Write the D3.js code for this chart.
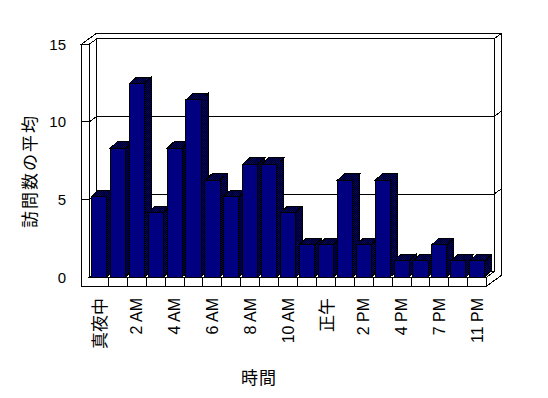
<!DOCTYPE html>
<html>
<head>
<meta charset="utf-8">
<script src="https://cdn.jsdelivr.net/npm/d3@7"></script>
<style>
  body { margin: 0; background: #fff; }
  svg { display: block; }
  text { font-family: "Liberation Sans", Arial, "Noto Sans CJK JP", sans-serif; fill: #000; }
  .cjk { font-family: "Noto Sans CJK JP", sans-serif; }
</style>
</head>
<body>
<svg id="chart" width="548" height="398"></svg>
<script>
const categories = [
  '真夜中', '1 AM', '2 AM', '3 AM', '4 AM', '5 AM', '6 AM', '7 AM', '8 AM', '9 AM', '10 AM', '11 AM',
  '正午', '1 PM', '2 PM', '3 PM', '4 PM', '6 PM', '7 PM', '9 PM', '11 PM',
];
const visits = [5, 8, 12, 4, 8, 11, 6, 5, 7, 7, 4, 2, 2, 6, 2, 6, 1, 1, 2, 1, 1];
const yTicks = [0, 5, 10, 15];
const gridValues = [5, 10];

const svg = d3.select('#chart');

// front plane of the 3d box
const X0 = 89.5;
const X1 = 486.7;
const DX = 7.4; // depth of the plot (oblique)
const DY = -5.3;
const WALL = 7.8; // left wall thickness
const FLOOR = 9; // floor thickness
const BDX = 7; // bar depth
const BDY = -6.5;

const x = d3.scaleBand().domain(categories).range([X0, X1]).paddingInner(0.2).paddingOuter(0.1);
const y = d3.scaleLinear().domain([0, 15]).range([277, 44]);
// bars sit slightly in front of the axis plane, so they read a little taller
const yBar = d3.scaleLinear().domain([0, 15]).range([277, 277 - 15 * 16.1]);

const step = x.step();
const y0 = y(0);
const yTop = y(15);

const defs = svg.append('defs');
const pat = defs.append('pattern')
  .attr('id', 'dither')
  .attr('patternUnits', 'userSpaceOnUse')
  .attr('width', 2)
  .attr('height', 2)
  .attr('shape-rendering', 'crispEdges');
pat.append('rect').attr('width', 2).attr('height', 2).attr('fill', '#000080');
pat.append('rect').attr('width', 1).attr('height', 1).attr('fill', '#000');
pat.append('rect').attr('x', 1).attr('y', 1).attr('width', 1).attr('height', 1).attr('fill', '#000');

const line = d3.line();
const g = svg.append('g')
  .attr('fill', '#fff')
  .attr('stroke', '#000')
  .attr('stroke-width', 1)
  .attr('shape-rendering', 'crispEdges');

function poly(pts) {
  return g.append('path').attr('d', line(pts) + 'Z');
}

// back wall
poly([[X0 + DX, yTop + DY], [X1 + DX, yTop + DY], [X1 + DX, y0 + DY], [X0 + DX, y0 + DY]]);
// left wall inner face
poly([[X0, yTop], [X0 + DX, yTop + DY], [X0 + DX, y0 + DY], [X0, y0]]);
// left wall + floor front face
poly([[X0 - WALL, yTop], [X0, yTop], [X0, y0], [X1, y0], [X1, y0 + FLOOR], [X0 - WALL, y0 + FLOOR]]);
// wall tops
poly([
  [X0 - WALL, yTop], [X0, yTop], [X0 + DX, yTop + DY], [X1 + DX, yTop + DY],
  [X1 + 2 * DX, yTop + 2 * DY], [X0 - WALL + 2 * DX, yTop + 2 * DY],
]);
// right side of back wall and floor
poly([
  [X1, y0], [X1, y0 + FLOOR], [X1 + 2 * DX, y0 + FLOOR + 2 * DY],
  [X1 + 2 * DX, yTop + 2 * DY], [X1 + DX, yTop + DY], [X1 + DX, y0 + DY],
]);
// floor top
poly([[X0, y0], [X1, y0], [X1 + DX, y0 + DY], [X0 + DX, y0 + DY]]);

// gridlines across the walls
gridValues.forEach((v) => {
  const yy = y(v);
  g.append('path').attr('fill', 'none').attr('d', line([
    [X0 - WALL, yy], [X0, yy], [X0 + DX, yy + DY], [X1 + DX, yy + DY], [X1 + 2 * DX, yy + 2 * DY],
  ]));
});

// category dividers on the floor front
d3.range(1, categories.length).forEach((i) => {
  g.append('line')
    .attr('x1', X0 + i * step).attr('x2', X0 + i * step)
    .attr('y1', y0).attr('y2', y0 + FLOOR);
});

// bars, left to right so each front hides the previous side
const bars = g.append('g').selectAll('g').data(visits).join('g');
bars.each(function (v, i) {
  const b = d3.select(this);
  const xl = x(categories[i]);
  const xr = xl + x.bandwidth();
  const yt = yBar(v);
  b.append('path').attr('fill', 'url(#dither)')
    .attr('d', line([[xr, yt], [xr + BDX, yt + BDY], [xr + BDX, y0 + BDY], [xr, y0]]) + 'Z');
  b.append('path').attr('fill', 'url(#dither)')
    .attr('d', line([[xl, yt], [xl + BDX, yt + BDY], [xr + BDX, yt + BDY], [xr, yt]]) + 'Z');
  b.append('rect').attr('fill', '#000080')
    .attr('x', xl).attr('y', yt).attr('width', x.bandwidth()).attr('height', y0 - yt);
});

// value labels
svg.append('g').selectAll('text').data(yTicks).join('text')
  .attr('x', 66)
  .attr('y', (d) => y(d))
  .attr('text-anchor', 'end')
  .attr('dominant-baseline', 'central')
  .attr('font-size', 15)
  .text((d) => d);

// category labels, every second hour
svg.append('g').selectAll('text')
  .data(categories.filter((c, i) => i % 2 === 0))
  .join('text')
  .attr('class', (d) => (/[A-Z]/.test(d) ? null : 'cjk'))
  .attr('transform', (d) => `translate(${X0 + (categories.indexOf(d) + 0.5) * step},298) rotate(-90)`)
  .attr('text-anchor', 'end')
  .attr('dominant-baseline', 'central')
  .attr('font-size', (d) => (/[A-Z]/.test(d) ? 16 : 17))
  .text((d) => d);

svg.append('text')
  .attr('class', 'cjk')
  .attr('transform', 'translate(28,171) rotate(-90)')
  .attr('text-anchor', 'middle')
  .attr('dominant-baseline', 'central')
  .attr('font-size', 17)
  .attr('letter-spacing', 2)
  .text('訪問数の平均');

svg.append('text')
  .attr('class', 'cjk')
  .attr('x', 259)
  .attr('y', 376)
  .attr('text-anchor', 'middle')
  .attr('dominant-baseline', 'central')
  .attr('font-size', 17)
  .attr('letter-spacing', 1)
  .text('時間');
</script>
</body>
</html>
